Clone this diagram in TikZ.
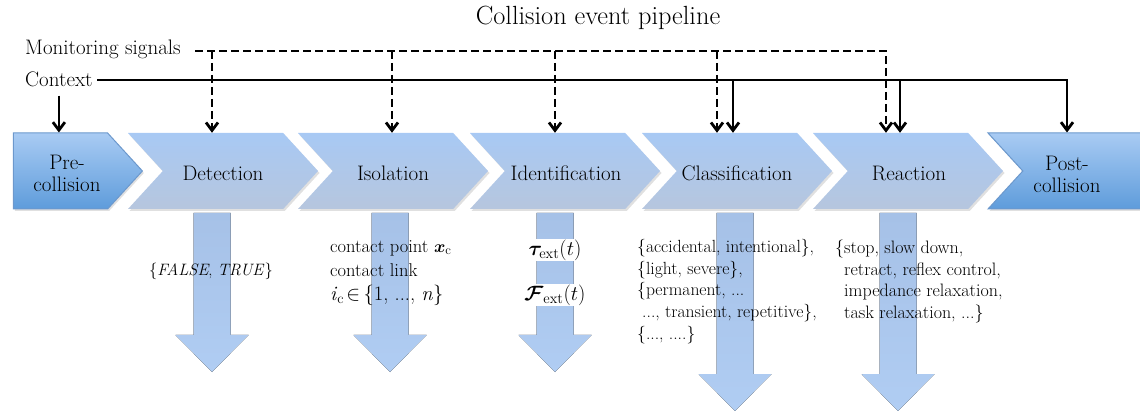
\documentclass[tikz,border=0pt]{standalone}
\usepackage{amsmath,bm}
\usepackage{fontspec}
\usetikzlibrary{shapes.symbols,arrows.meta,shadows}
\definecolor{midtop}{HTML}{A8C9F4}
\definecolor{midbot}{HTML}{B6C6DE}
\definecolor{endtop}{HTML}{A9CBF3}
\definecolor{endbot}{HTML}{5E9CDB}
\definecolor{endborder}{HTML}{6C98CC}
\definecolor{arrtop}{HTML}{A6C1E7}
\definecolor{arrbot}{HTML}{B0CDF3}
\begin{document}
\begin{tikzpicture}[x=1pt,y=-1pt,
  lbl/.style={font=\rmfamily\fontsize{21}{22}\selectfont, inner sep=0pt},
  small/.style={font=\rmfamily\fontsize{18}{22}\selectfont, inner sep=0pt, align=left},
  chev/.style={signal, signal from=west, signal to=east, signal pointer angle=95,
    minimum width=190pt, minimum height=76pt, inner sep=0pt, draw=none,
    top color=midtop, bottom color=midbot,
    drop shadow={shadow xshift=1.5pt, shadow yshift=-2pt, fill=black, opacity=0.12}},
  endchev/.style={chev, top color=endtop, bottom color=endbot, draw=endborder, line width=1pt},
  barb/.tip={Straight Barb[length=8pt,width=12pt]},
  sig/.style={line width=2.8pt, dash pattern=on 8pt off 4pt},
  ctxl/.style={line width=2.8pt},
  blockarrow/.style={top color=arrtop, bottom color=arrbot, draw=none}]
\path[use as bounding box] (0,0) rectangle (1140,411);

% title
\node[font=\rmfamily\fontsize{26.3}{28}\selectfont] (title) at (598,18) {Collision event pipeline};

% chevrons
\node[endchev, signal from=nowhere, minimum width=129pt] (pre) at (60.5,171) {};
\node[chev] (det) at (223,171) {};
\node[chev] (iso) at (393,171) {};
\node[chev] (idf) at (565,171) {};
\node[chev] (cla) at (737,171) {};
\node[chev] (rea) at (908,171) {};
\node[endchev] (post) at (1083,171) {};

% chevron labels
\node[lbl, align=center] (preL) at (67,173) {Pre-\\collision};
\node[lbl] (detL) at (223,173) {Detection};
\node[lbl] (isoL) at (393,173) {Isolation};
\node[lbl] (idfL) at (566,173) {Identification};
\node[lbl] (claL) at (737,173) {Classification};
\node[lbl] (reaL) at (909,173) {Reaction};
\node[lbl, align=center] (postL) at (1067,174) {Post-\\collision};

% block arrows below
\foreach \cx/\hs/\tp in {212/335/372, 390/335/372, 555/335/372, 735/374/411, 898/374/411}
  \fill[blockarrow] (\cx-18.5,213) -- (\cx+18.5,213) -- (\cx+18.5,\hs) -- (\cx+36.5,\hs)
     -- (\cx,\tp) -- (\cx-36.5,\hs) -- (\cx-18.5,\hs) -- cycle;

% signal labels
\node[lbl, anchor=west] (ms) at (25,49) {Monitoring signals};
\node[lbl, anchor=west] (ctx) at (25,79) {Context};

% monitoring signals (dashed)
\coordinate (ms0) at (195,51);
\coordinate (msE) at (886,51);
\draw[sig, -barb] (ms0) -- (msE) -- (msE |- rea.north);
\foreach \x/\n in {212/det, 392/iso, 555/idf, 717/cla} {
  \coordinate (md\n) at (\x,51);
  \draw[sig, -barb] (md\n) -- (md\n |- \n.north);
}

% context (solid)
\coordinate (c0) at (97,80);
\coordinate (cE) at (1067,80);
\draw[ctxl, -barb] (c0) -- (cE) -- (cE |- post.north);
\foreach \x/\n in {733/cla, 900/rea} {
  \coordinate (cd\n) at (\x,80);
  \draw[ctxl, -barb] (cd\n) -- (cd\n |- \n.north);
}
\draw[ctxl, -barb, shorten <=9pt] (ctx.south) -- (ctx.south |- pre.north);

% outputs
\node[small, font=\rmfamily\fontsize{16.5}{20}\selectfont] (detO) at (211,271) {\{\textit{FALSE}, \textit{TRUE}\}};
\node[small, anchor=west, font=\rmfamily\fontsize{18.5}{22}\selectfont] (isoO1) at (330,248) {contact point $\bm{x}_{\mathrm{c}}$};
\node[small, anchor=west, font=\rmfamily\fontsize{18.5}{22}\selectfont] (isoO2) at (330,270) {contact link};
\node[small, anchor=west, font=\rmfamily\fontsize{20.5}{22}\selectfont] (isoO3) at (330,295) {\textit{i}$_{\mathrm{c}}\!\in$\,\{1, ..., \textit{n}\}};
\node[small, fill=white, inner sep=1pt, font=\fontsize{21}{24}\selectfont] (idfO1) at (555,250) {$\bm{\tau}_{\mathrm{ext}}(t)$};
\node[small, fill=white, inner sep=1pt, font=\fontsize{21}{24}\selectfont] (idfO2) at (555,295) {$\bm{\mathcal{F}}_{\mathrm{ext}}(t)$};
\node[small, anchor=north west, font=\rmfamily\fontsize{17.6}{21.7}\selectfont] (claO) at (637,239) {\{accidental, intentional\},\\\{light, severe\},\\\{permanent, ...\\\hspace{5pt}..., transient, repetitive\},\\\{..., ....\}};
\node[small, anchor=north west, font=\rmfamily\fontsize{18}{21.5}\selectfont] (reaO) at (835,240) {\{stop, slow down,\\\phantom{\{}retract, reflex control,\\\phantom{\{}impedance relaxation,\\\phantom{\{}task relaxation, ...\}};
\end{tikzpicture}
\end{document}
